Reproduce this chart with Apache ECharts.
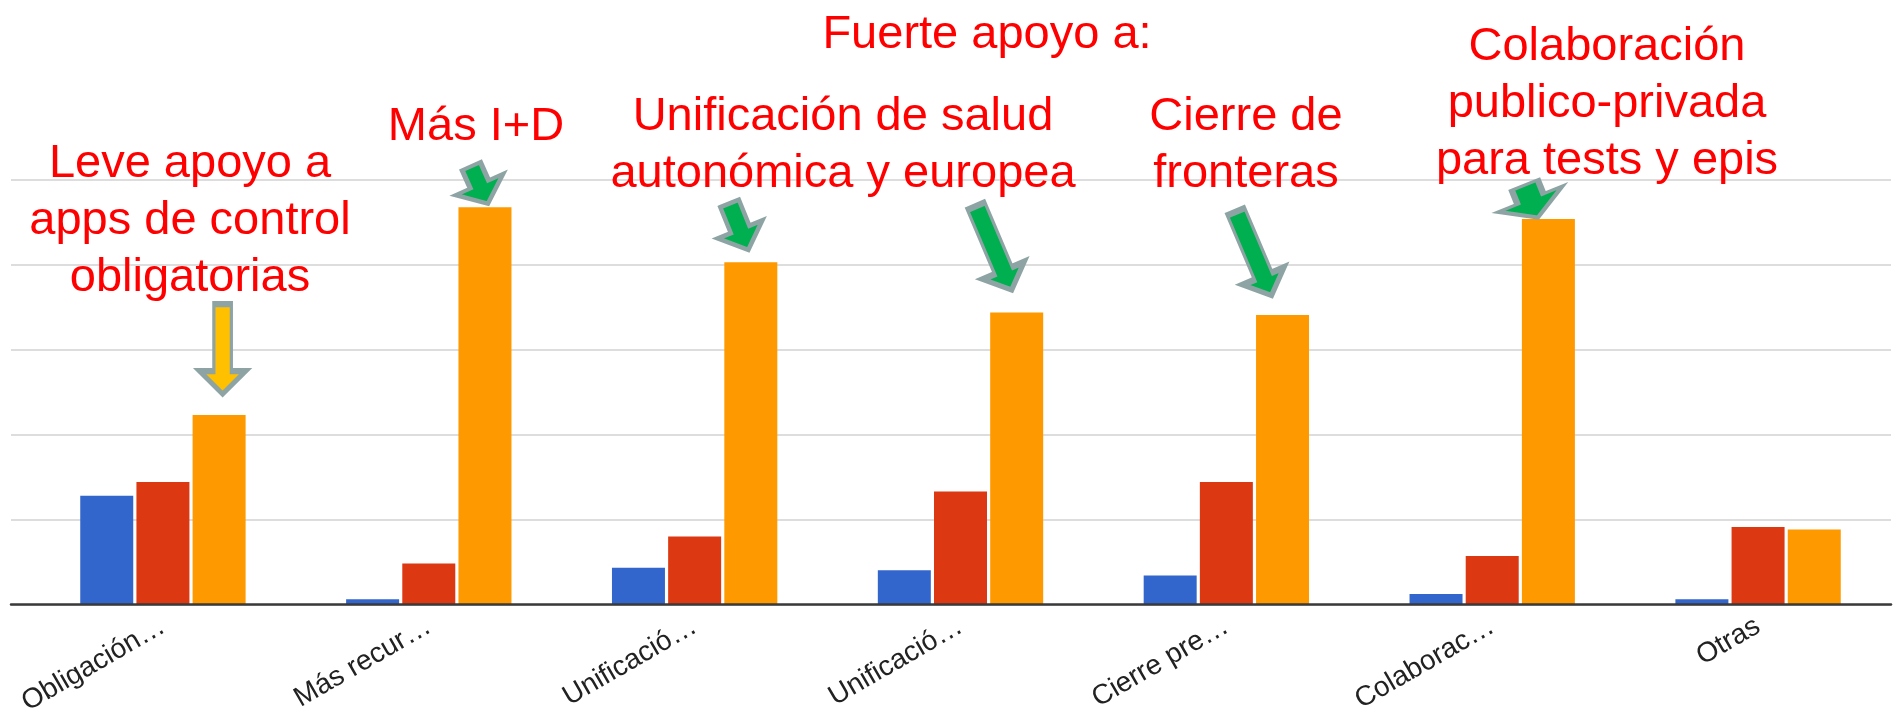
<!DOCTYPE html>
<html>
<head>
<meta charset="utf-8">
<script src="https://cdn.jsdelivr.net/npm/echarts@6/dist/echarts.min.js"></script>
<style>
  html, body { margin: 0; padding: 0; background: #ffffff; }
  #chart { width: 1894px; height: 713px; }
</style>
</head>
<body>
<div id="chart"></div>
<script>
// ---- data ----
const categories = ['Obligación…', 'Más recur…', 'Unificació…', 'Unificació…', 'Cierre pre…', 'Colaborac…', 'Otras'];
const serieAzul    = [12.8, 0.6, 4.3, 4.0, 3.4, 1.2, 0.6];
const serieRoja    = [14.4, 4.8, 8.0, 13.3, 14.4, 5.7, 9.1];
const serieNaranja = [22.3, 46.8, 40.3, 34.4, 34.1, 45.4, 8.8];
const yTicks = [0, 10, 20, 30, 40, 50];

// annotation texts
const notas = [
  'Fuerte apoyo a:',
  'Más I+D',
  'Unificación de salud\nautonómica y europea',
  'Leve apoyo a\napps de control\nobligatorias',
  'Cierre de\nfronteras',
  'Colaboración\npublico-privada\npara tests y epis'
];
// arrows point at the orange bar of these categories
const flechasCat = [0, 1, 2, 3, 4, 5];

// ---- layout / style (not data) ----
const notaPos = [[987, 7], [476, 99], [843, 89], [190, 136], [1246, 89], [1607, 19]];
const flechaEstilo = [
  { fill: '#ffc000', rot: 0,  L: 90, shaft: 17.5, head: 46, headLen: 23, tip: [3.5, -21] },
  { fill: '#00b050', rot: 24, L: 41, shaft: 20,   head: 52, headLen: 21, tip: [3, -3.5] },
  { fill: '#00b050', rot: 22, L: 50, shaft: 20,   head: 48, headLen: 22, tip: [-2.5, -12.5] },
  { fill: '#00b050', rot: 23, L: 91, shaft: 19,   head: 45, headLen: 21, tip: [-5, -22.5] },
  { fill: '#00b050', rot: 23, L: 91, shaft: 19,   head: 45, headLen: 21, tip: [-11, -19.5] },
  { fill: '#00b050', rot: 22, L: 35, shaft: 28,   head: 69, headLen: 20, tip: [-10.5, -1.5] }
];

function arrowPath(L, sw, hw, hl) {
  const s = sw / 2, h = hw / 2, b = L - hl;
  return 'path://M' + (-s) + ' 0 L' + s + ' 0 L' + s + ' ' + b + ' L' + h + ' ' + b +
         ' L0 ' + L + ' L' + (-h) + ' ' + b + ' L' + (-s) + ' ' + b + ' Z';
}

const markData = flechasCat.map(function (ci, i) {
  const a = flechaEstilo[i];
  const t = a.rot * Math.PI / 180;
  const off = [a.tip[0] - Math.sin(t) * a.L / 2, a.tip[1] - Math.cos(t) * a.L / 2];
  return {
    coord: [ci, serieNaranja[ci]],
    symbol: arrowPath(a.L, a.shaft, a.head, a.headLen),
    symbolSize: [a.head, a.L],
    symbolRotate: a.rot,
    symbolOffset: off,
    itemStyle: { color: a.fill, borderColor: '#8ea4a4', borderWidth: 4.5 },
    label: { show: false }
  };
});

const FONT = "'Liberation Sans', Arial, sans-serif";

const chart = echarts.init(document.getElementById('chart'), null, { renderer: 'canvas' });

const grids = [
  { left: 11, right: 3, top: 180, bottom: 108.7, containLabel: false, outerBoundsMode: 'none' },
  { left: 30, right: 3, top: 180, bottom: 108.7, containLabel: false, outerBoundsMode: 'none' }
];

chart.setOption({
  animation: false,
  backgroundColor: '#ffffff',
  grid: grids,
  xAxis: [
    {
      gridIndex: 0, type: 'value', min: 0, max: 1, z: 5,
      axisLine: { show: true, onZero: false, lineStyle: { color: '#3a3a3a', width: 2.5 } },
      axisTick: { show: false }, axisLabel: { show: false }, splitLine: { show: false }
    },
    {
      gridIndex: 1, type: 'category', data: categories,
      axisLine: { show: false }, axisTick: { show: false },
      axisLabel: {
        interval: 0, rotate: 30, margin: 20, fontSize: 28, color: '#222222', fontFamily: FONT
      }
    }
  ],
  yAxis: [
    {
      gridIndex: 0, type: 'value', min: yTicks[0], max: yTicks[yTicks.length - 1], interval: yTicks[1] - yTicks[0],
      axisLine: { show: false }, axisTick: { show: false }, axisLabel: { show: false },
      splitLine: { show: true, lineStyle: { color: '#dddddd', width: 2 } }
    },
    {
      gridIndex: 1, type: 'value', min: yTicks[0], max: yTicks[yTicks.length - 1], interval: yTicks[1] - yTicks[0],
      axisLine: { show: false }, axisTick: { show: false }, axisLabel: { show: false },
      splitLine: { show: false }
    }
  ],
  series: [
    { name: 'Serie 1', type: 'bar', xAxisIndex: 1, yAxisIndex: 1, data: serieAzul,
      barWidth: 53, barGap: '6%', itemStyle: { color: '#3366cc' } },
    { name: 'Serie 2', type: 'bar', xAxisIndex: 1, yAxisIndex: 1, data: serieRoja,
      barWidth: 53, barGap: '6%', itemStyle: { color: '#dc3912' } },
    { name: 'Serie 3', type: 'bar', xAxisIndex: 1, yAxisIndex: 1, data: serieNaranja,
      barWidth: 53, barGap: '6%', itemStyle: { color: '#ff9900' },
      markPoint: { z: 10, data: markData, label: { show: false } } }
  ],
  graphic: notas.map(function (t, i) {
    return {
      type: 'text', x: notaPos[i][0], y: notaPos[i][1], z: 20,
      style: {
        text: t, fill: '#ff0000', fontSize: 47, fontFamily: FONT,
        align: 'center', verticalAlign: 'top', lineHeight: 57
      }
    };
  })
});
</script>
</body>
</html>
